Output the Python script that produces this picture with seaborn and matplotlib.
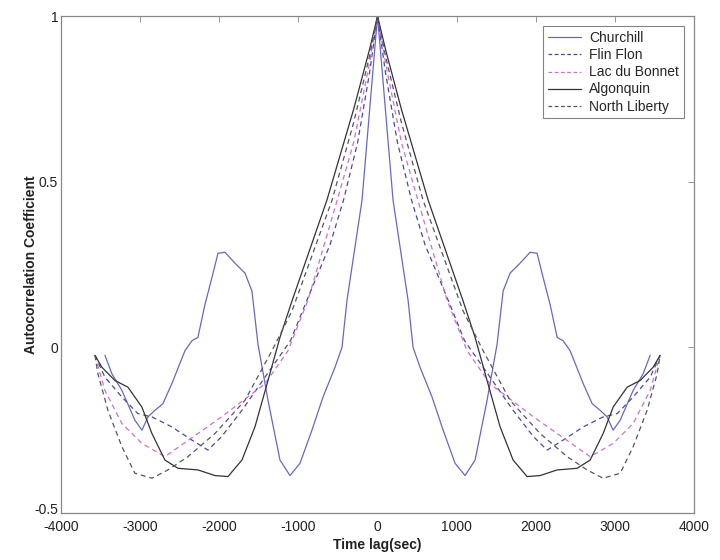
import numpy as np
import pandas as pd
import matplotlib
matplotlib.use("Agg")
import matplotlib.pyplot as plt
import matplotlib.transforms as mtransforms
import seaborn as sns

# Right half of each autocorrelation curve (lag >= 0); the plot is symmetric about lag 0
churchill_lag = [0, 196, 386, 449, 537, 689, 829, 980, 1106, 1233, 1384, 1511, 1587, 1675, 1801,
                 1928, 2016, 2093, 2180, 2270, 2345, 2433, 2600, 2712, 2813, 2901, 2977, 3066,
                 3230, 3356, 3445]
churchill_acf = [1.0, 0.444, 0.142, 0.0, -0.06, -0.15, -0.25, -0.35, -0.387, -0.34, -0.16, 0.01,
                 0.17, 0.224, 0.254, 0.287, 0.284, 0.21, 0.13, 0.03, 0.02, -0.01, -0.11, -0.17,
                 -0.19, -0.21, -0.25, -0.22, -0.13, -0.08, -0.024]

flinflon_lag = [0, 100, 250, 430, 600, 879, 1100, 1422, 1713, 1972, 2143, 2345, 2600, 2850, 3028,
                3230, 3445, 3571]
flinflon_acf = [1.0, 0.83, 0.62, 0.444, 0.31, 0.15, 0.02, -0.09, -0.19, -0.27, -0.31, -0.28, -0.24,
                -0.21, -0.20, -0.15, -0.09, -0.024]

lac_lag = [0, 100, 300, 510, 879, 1131, 1422, 1972, 2269, 2687, 2977, 3230, 3445, 3571]
lac_acf = [1.0, 0.86, 0.62, 0.444, 0.142, -0.01, -0.11, -0.21, -0.26, -0.33, -0.29, -0.23, -0.13,
           -0.024]

algonquin_lag = [0, 100, 300, 640, 1081, 1233, 1384, 1549, 1713, 1890, 2054, 2269, 2522, 2687,
                 2851, 2978, 3155, 3319, 3483, 3571]
algonquin_acf = [1.0, 0.9, 0.72, 0.444, 0.14, 0.03, -0.10, -0.24, -0.34, -0.39, -0.387, -0.37,
                 -0.365, -0.34, -0.26, -0.18, -0.12, -0.10, -0.06, -0.024]

liberty_lag = [0, 100, 300, 575, 1081, 1334, 1675, 2054, 2396, 2649, 2850, 3066, 3230, 3407, 3533,
               3571]
liberty_acf = [1.0, 0.88, 0.68, 0.444, 0.11, -0.01, -0.16, -0.26, -0.33, -0.37, -0.395, -0.38,
               -0.30, -0.19, -0.08, -0.024]

names = ["Churchill", "Flin Flon", "Lac du Bonnet", "Algonquin", "North Liberty"]
halves = [(churchill_lag, churchill_acf), (flinflon_lag, flinflon_acf), (lac_lag, lac_acf),
          (algonquin_lag, algonquin_acf), (liberty_lag, liberty_acf)]
colors = ["#6868c4", "#4a4a9c", "#d070d0", "#333333", "#555566"]
dashed = [False, True, True, False, True]

# mirror each half to get the full two-sided curve
frames = []
for name, (lag, acf) in zip(names, halves):
    lag = np.array(lag, dtype=float)
    acf = np.array(acf, dtype=float)
    full_lag = np.concatenate([-lag[:0:-1], lag])
    full_acf = np.concatenate([acf[:0:-1], acf])
    frames.append(pd.DataFrame({"lag": full_lag, "acf": full_acf, "station": name}))
df = pd.concat(frames, ignore_index=True)

sns.set_style("white")
plt.rcParams["font.family"] = ["Liberation Sans", "DejaVu Sans"]
plt.rcParams["axes.unicode_minus"] = False

fig = plt.figure(figsize=(7.2, 5.6), dpi=100)
ax = fig.add_axes([0.0847, 0.0839, 0.8793, 0.8875])

for name, col, dsh in zip(names, colors, dashed):
    sub = df[df["station"] == name]
    sns.lineplot(data=sub, x="lag", y="acf", ax=ax, color=col, linewidth=0.9,
                 label=name, sort=False, estimator=None)
    if dsh:
        ax.lines[-1].set_dashes((4, 3))

ax.set_xlim(-4000, 4000)
ax.set_ylim(-0.5, 1)
ax.set_xticks(np.arange(-4000, 4001, 1000))
ax.set_yticks([-0.5, 0, 0.5, 1])
ax.set_yticklabels(["-0.5", "0", "0.5", "1"])
ax.tick_params(direction="in", length=4, width=0.6, colors="#888888", labelcolor="#222222",
               labelsize=10, top=True, right=True, pad=2)
ax.tick_params(axis="x", pad=5)
for s in ax.spines.values():
    s.set_color("#888888")
    s.set_linewidth(0.9)

# nudge the bottom y label up a little so it sits just above "-4000", as in the original
lab = ax.get_yticklabels()[0]
lab.set_transform(lab.get_transform() + mtransforms.ScaledTranslation(0, 3 / 72, fig.dpi_scale_trans))

ax.set_xlabel("Time lag(sec)", fontsize=10, fontweight="bold", color="#222222", labelpad=3)
ax.set_ylabel("Autocorrelation Coefficient", fontsize=10, fontweight="bold", color="#222222",
              labelpad=-3)

leg = ax.legend(loc="upper right", fontsize=10, frameon=True, fancybox=False,
                borderpad=0.35, labelspacing=0.22, handlelength=2.4, handletextpad=0.6,
                bbox_to_anchor=(0.995, 0.993))
leg.get_frame().set_edgecolor("#666666")
leg.get_frame().set_linewidth(0.8)
for h, dsh in zip(leg.get_lines(), dashed):
    if dsh:
        h.set_dashes((3, 2))

fig.savefig("out.png", dpi=100)
